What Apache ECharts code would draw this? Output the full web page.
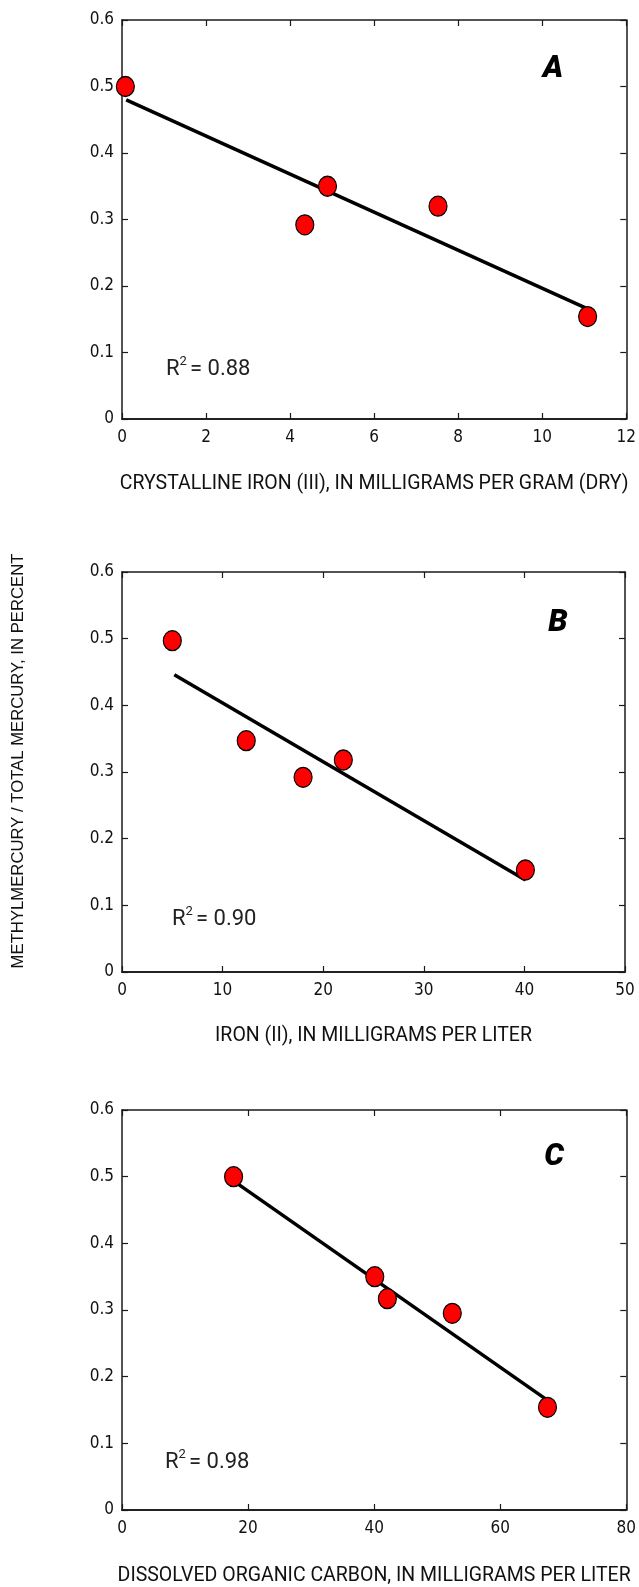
<!DOCTYPE html>
<html>
<head>
<meta charset="utf-8">
<script src="https://cdn.jsdelivr.net/npm/echarts@6/dist/echarts.min.js"></script>
<style>
  html, body { margin: 0; padding: 0; background: #fff; }
  #chart { width: 639px; height: 1587px; }
</style>
</head>
<body>
<div id="chart"></div>
<script>
// Panel A: crystalline iron (III), mg/g dry
const ironIII = [0.08, 4.35, 4.89, 7.52, 11.08];
const ratioA = [0.50, 0.292, 0.35, 0.32, 0.154];
const trendAx = [0.1, 11.03];
const trendAy = [0.48, 0.167];

// Panel B: iron (II), mg/L
const ironII = [5.0, 12.35, 18.0, 22.0, 40.1];
const ratioB = [0.497, 0.347, 0.292, 0.318, 0.153];
const trendBx = [5.2, 40.1];
const trendBy = [0.446, 0.138];

// Panel C: dissolved organic carbon, mg/L
const doc = [17.7, 40.1, 42.1, 52.4, 67.5];
const ratioC = [0.50, 0.35, 0.317, 0.295, 0.154];
const trendCx = [17.8, 67.3];
const trendCy = [0.493, 0.166];

const yTickLabels = ['0', '0.1', '0.2', '0.3', '0.4', '0.5', '0.6'];
const xMaxA = 12, xStepA = 2;
const xMaxB = 50, xStepB = 10;
const xMaxC = 80, xStepC = 20;

const panelLetters = ['A', 'B', 'C'];
const r2Values = ['0.88', '0.90', '0.98'];
const xTitles = [
  'CRYSTALLINE IRON (III), IN MILLIGRAMS PER GRAM (DRY)',
  'IRON (II), IN MILLIGRAMS PER LITER',
  'DISSOLVED ORGANIC CARBON, IN MILLIGRAMS PER LITER'
];
const yTitle = 'METHYLMERCURY / TOTAL MERCURY, IN PERCENT';

// Pick a narrow face for the tick numbers: a true narrow family if present,
// otherwise a width-variable family asked for with font-stretch 'condensed'.
const mctx = document.createElement('canvas').getContext('2d');
function measure(font, s) { mctx.font = font; return { w: mctx.measureText(s).width, f: mctx.font }; }
const probe = 'MILLIGRAMS 0.123456789';
function hasFamily(f) { return measure(`20px '${f}', monospace`, probe).w !== measure('20px monospace', probe).w; }
let tickFamily = "'Roboto', sans-serif", tickStretch = '', tickSize = 17;
if (hasFamily('Liberation Sans Narrow')) {
  tickFamily = "'Liberation Sans Narrow', sans-serif"; tickSize = 18;
} else if (hasFamily('DejaVu Sans Condensed')) {
  tickFamily = "'DejaVu Sans Condensed', sans-serif"; tickSize = 17;
} else {
  for (const f of ['Roboto', 'Noto Sans', 'Open Sans']) {
    if (!hasFamily(f)) continue;
    const normal = measure(`20px '${f}'`, probe);
    const narrow = measure(`condensed 20px '${f}'`, probe);
    if (/condensed/.test(narrow.f) && narrow.w / normal.w < 0.93) {
      tickFamily = `'${f}', sans-serif`; tickStretch = 'condensed'; tickSize = 19;
      break;
    }
  }
}

const TEXT = "'Roboto', 'Liberation Sans', sans-serif";
const REGULAR = "'Liberation Sans', Arial, sans-serif";

const grids = [
  { left: 122, top: 20, width: 506, height: 399 },
  { left: 122, top: 572, width: 503, height: 400 },
  { left: 122, top: 1110, width: 505, height: 400 }
];
const xSpecs = [[xMaxA, xStepA], [xMaxB, xStepB], [xMaxC, xStepC]];
const nameGaps = [55, 54, 56];

const pts = [[ironIII, ratioA], [ironII, ratioB], [doc, ratioC]];
const trends = [[trendAx, trendAy], [trendBx, trendBy], [trendCx, trendCy]];

const tickIn = { show: true, inside: true, length: 6, lineStyle: { color: '#1a1a1a', width: 1.2 } };
const tickLabel = {
  color: '#111', fontFamily: tickFamily, fontSize: tickSize,
  fontStyle: tickStretch ? tickStretch : 'normal'
};

const xAxis = [], yAxis = [], series = [];
grids.forEach((g, i) => {
  const [xmax, xstep] = xSpecs[i];
  // bottom axis with labels and title
  xAxis.push({
    type: 'value', gridIndex: i, position: 'bottom', min: 0, max: xmax, interval: xstep,
    axisLine: { show: true, onZero: false, lineStyle: { color: '#222', width: 2 } },
    axisTick: tickIn, splitLine: { show: false },
    axisLabel: Object.assign({}, tickLabel, { margin: 10 }),
    name: xTitles[i], nameLocation: 'middle', nameGap: nameGaps[i],
    nameTextStyle: { color: '#111', fontFamily: TEXT, fontSize: 19.5 }
  });
  // top frame edge with inward ticks
  xAxis.push({
    type: 'value', gridIndex: i, position: 'top', min: 0, max: xmax, interval: xstep,
    axisLine: { show: true, onZero: false, lineStyle: { color: '#1a1a1a', width: 1.5 } },
    axisTick: tickIn, axisLabel: { show: false }, splitLine: { show: false }
  });
  yAxis.push({
    type: 'value', gridIndex: i, position: 'left', min: 0, max: 0.6, interval: 0.1,
    axisLine: { show: true, onZero: false, lineStyle: { color: '#1a1a1a', width: 1.5 } },
    axisTick: tickIn, splitLine: { show: false },
    axisLabel: Object.assign({}, tickLabel, { margin: 8, formatter: v => yTickLabels[Math.round(v * 10)] })
  });
  yAxis.push({
    type: 'value', gridIndex: i, position: 'right', min: 0, max: 0.6, interval: 0.1,
    axisLine: { show: true, onZero: false, lineStyle: { color: '#1a1a1a', width: 1.5 } },
    axisTick: tickIn, axisLabel: { show: false }, splitLine: { show: false }
  });

  const [tx, ty] = trends[i];
  series.push({
    type: 'line', xAxisIndex: 2 * i, yAxisIndex: 2 * i,
    data: tx.map((x, k) => [x, ty[k]]),
    symbol: 'none', lineStyle: { color: '#000', width: 3.5 }, z: 2, silent: true
  });
  const [xs, ys] = pts[i];
  series.push({
    type: 'scatter', xAxisIndex: 2 * i, yAxisIndex: 2 * i,
    data: xs.map((x, k) => [x, ys[k]]),
    symbol: 'circle', symbolSize: [18, 20],
    itemStyle: { color: '#ff0000', borderColor: '#000', borderWidth: 1.2, opacity: 1 },
    z: 3, silent: true
  });
});

// panel letters and R-squared annotations
const letterPos = [[553, 69], [558, 623], [554, 1157]];
const r2Pos = [[166, 369], [172, 919], [165, 1462]];
const letterFont = `italic 900 ${tickStretch} 31px ` + TEXT;
const graphic = [];
panelLetters.forEach((L, i) => {
  graphic.push({
    type: 'text', x: letterPos[i][0], y: letterPos[i][1],
    style: { text: L, fill: '#000', font: letterFont, align: 'center', verticalAlign: 'middle' }
  });
  const [rx, ry] = r2Pos[i];
  graphic.push({
    type: 'text', x: rx, y: ry,
    style: { text: 'R', fill: '#222', font: '22px ' + TEXT, verticalAlign: 'middle', align: 'left' }
  });
  graphic.push({
    type: 'text', x: rx + 13.5, y: ry - 7,
    style: { text: '2', fill: '#222', font: '13px ' + TEXT, verticalAlign: 'middle', align: 'left' }
  });
  graphic.push({
    type: 'text', x: rx + 24, y: ry,
    style: { text: '= ' + r2Values[i], fill: '#222', font: '22px ' + TEXT, verticalAlign: 'middle', align: 'left' }
  });
});
graphic.push({
  type: 'text', x: 18, y: 761, rotation: Math.PI / 2,
  style: { text: yTitle, fill: '#111', font: '16.7px ' + REGULAR, align: 'center', verticalAlign: 'middle' }
});

const chart = echarts.init(document.getElementById('chart'), null, { renderer: 'canvas' });
chart.setOption({
  animation: false,
  backgroundColor: '#ffffff',
  grid: grids,
  xAxis, yAxis, series, graphic
});
</script>
</body>
</html>
